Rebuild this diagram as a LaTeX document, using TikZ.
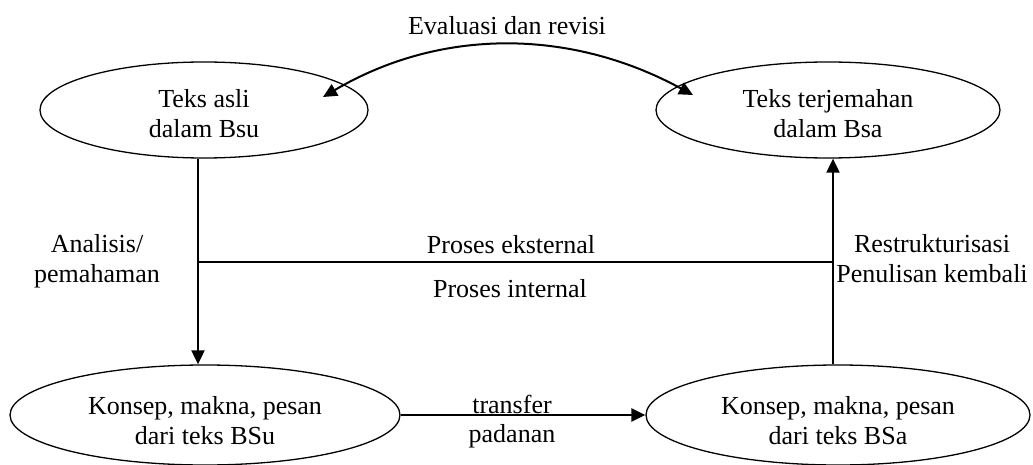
\documentclass[tikz,border=0pt]{standalone}
\usepackage{fontspec}
\setmainfont{Liberation Serif}
\usetikzlibrary{shapes.geometric,arrows.meta}
\begin{document}
\begin{tikzpicture}[x=1pt,y=-1pt,
  every node/.style={font=\fontsize{26}{30}\selectfont, inner sep=0pt, align=center},
  ell/.style={draw, ellipse, line width=1.3pt, minimum width=#1},
  arr/.style={line width=2pt, -{Triangle[length=14pt,width=13pt]}},
  barr/.style={line width=2pt, {Triangle[length=14pt,width=13pt]}-{Triangle[length=14pt,width=13pt]}},
  lbl/.style={anchor=base}]
\useasboundingbox (0,0) rectangle (1033,465);
% ellipses
\node[ell=328pt, minimum height=96pt] (tl) at (204,110) {\rule{0pt}{26pt}Teks asli\\dalam Bsu};
\node[ell=344pt, minimum height=96pt] (tr) at (828,110) {\rule{0pt}{26pt}Teks terjemahan\\dalam Bsa};
\node[ell=390pt, minimum height=100pt] (bl) at (205,415) {\rule{0pt}{30pt}Konsep, makna, pesan\\dari teks BSu};
\node[ell=384pt, minimum height=100pt] (br) at (838,415) {\rule{0pt}{30pt}Konsep, makna, pesan\\dari teks BSa};
% vertical arrows
\draw[arr] ([xshift=-6pt]tl.south) -- ([xshift=-7pt]bl.north);
\draw[arr] ([xshift=-5pt]br.north) -- ([xshift=5pt]tr.south);
% transfer
\draw[arr, line width=2.4pt] (bl.east) -- (br.west);
% horizontal divider
\coordinate (hl) at (198,262);
\coordinate (hr) at (833,262);
\draw[line width=1.3pt] (hl) -- (hr);
% evaluation curve
\coordinate (el) at (323,97);
\coordinate (er) at (693,95);
\draw[barr] (el) .. controls (440,28) and (570,28) .. (er);
% labels
\node[lbl] (ev) at (507,35) {Evaluasi dan revisi};
\node[lbl] (pe) at (511,253) {Proses eksternal};
\node[lbl] (pi) at (510,297) {Proses internal};
\node (an) at (97,261) {Analisis/\\pemahaman};
\node (re) at (932,259) {Restrukturisasi\\Penulisan kembali};
\node[lbl] (tf) at (512,413) {transfer};
\node[lbl] (pd) at (512,442) {padanan};
\end{tikzpicture}
\end{document}
